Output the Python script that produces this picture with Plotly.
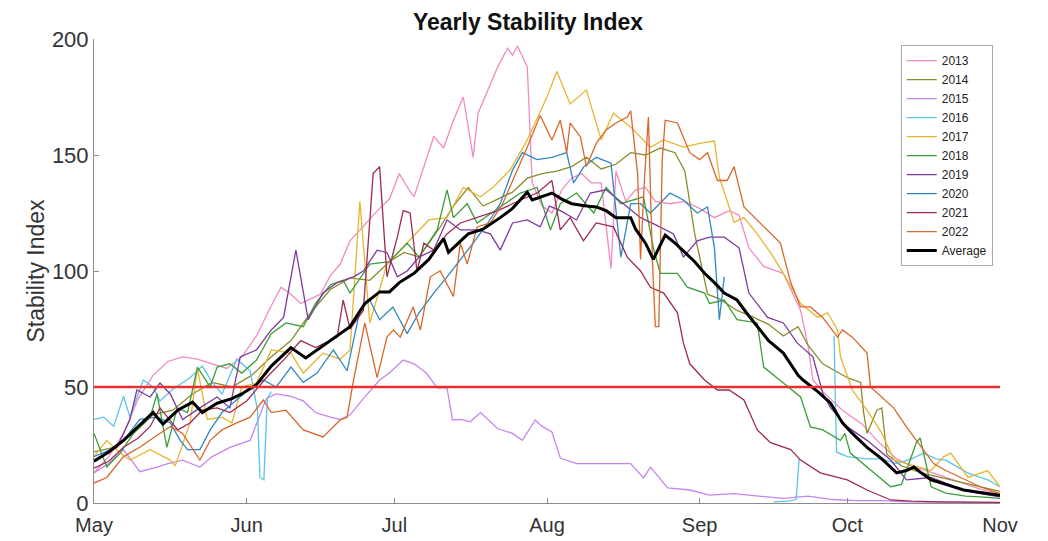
import pandas as pd
import plotly.graph_objects as go

# dias contados a partir de 1 de maio
d2013 = [0, 3, 6, 9, 12, 15, 18, 21, 24, 27, 30, 33, 36, 38, 40, 42, 44, 46, 48, 50, 52, 55, 58, 60, 62, 64, 65, 67, 69, 71,
         73, 75, 77, 78, 80, 82, 84, 85, 86, 88, 89, 91, 93, 95, 97, 99, 101, 103, 105, 106, 108, 110, 112, 114, 117, 120,
         123, 126, 129, 131, 133, 136, 140, 142, 143.5, 145, 146, 148, 150, 152, 156, 159, 163, 166, 169, 173, 177, 180, 184]
v2013 = [13, 20, 30, 45, 55, 61, 63, 62, 60, 58, 63, 72, 85, 93, 90, 86, 88, 90, 98, 103, 113, 120, 127, 131, 142, 135, 132,
         145, 158, 153, 165, 175, 149, 168, 178, 188, 196, 193, 197, 188, 138, 128, 125, 135, 140, 142, 138, 138, 101, 143,
         130, 135, 136, 130, 129, 130, 127, 123, 126, 124, 110, 102, 99, 90, 83, 68, 53, 48, 44, 40, 34, 27, 19, 16, 14, 11,
         8, 6, 4]

d2014 = [0, 4, 8, 12, 16, 20, 24, 28, 32, 36, 40, 44, 48, 52, 56, 60, 63, 66, 70, 73, 76, 79, 82, 85, 88, 91, 94, 97, 100,
         103, 106, 109, 112, 115, 118, 120, 122, 124.6, 127, 130.6, 134, 137, 140, 143, 145, 148, 153, 155.7, 156.3, 157,
         159, 160, 161, 164, 168, 172, 176, 180, 184]
v2014 = [22, 24, 30, 38, 40, 47, 52, 50, 55, 63, 70, 82, 92, 97, 96, 104, 108, 106, 118, 128, 136, 128, 131, 134, 140, 142,
         143, 145, 149, 144, 146, 151, 150, 153, 151, 143, 116, 90, 88, 83, 80, 77, 72, 76, 68, 60, 54, 52, 39, 30, 40, 41,
         21, 16, 13, 11, 9, 7, 5]

d2015 = [0, 3, 6, 9.3, 12.8, 15, 18, 21.5, 24, 27.6, 31.7, 35, 37, 40, 42.5, 45, 48, 50, 52, 54.7, 58, 60, 62.8, 65, 67.5,
         69.7, 71.7, 72.8, 74.5, 76.4, 78.5, 80, 82, 85, 87, 89.6, 91, 93, 94.7, 98, 102, 105, 109, 111.6, 113, 116.5, 121,
         125, 130, 135, 140, 145, 150, 155, 160, 165, 170, 175, 180, 184]
v2015 = [13, 17, 23, 13.5, 15.5, 17, 18.5, 15.5, 20, 24, 27, 45, 47, 46, 44, 39, 37, 36, 38, 45, 53, 56, 61.6, 60, 56, 49.6,
         49.6, 35.8, 36, 35, 39, 36, 32, 30, 27, 35.8, 33, 30.6, 19.4, 17, 17, 17, 17, 10.8, 15.5, 6.5, 5.6, 3.4, 4, 3, 2, 3,
         1.5, 1, 1, 0.5, 0.5, 0.3, 0.3, 0.2]

d2016 = [0, 2, 4, 6, 7.3, 10, 12, 13.4, 16, 19.5, 22, 24, 26, 29, 31.7, 33.2, 33.7, 34.5, 35.2, 36, 37,
         138, 141, 142.6, 143.2, 144,
         150.3, 150.8, 153, 157, 160, 163, 166, 168.5, 171, 173, 175, 177.4, 180, 181.5, 184]
v2016 = [36, 37, 33, 46, 37, 53, 50, 44, 49, 54, 59, 52, 47, 62, 57, 40, 11, 10, 45, 48, None,
         0.5, 0.8, 1.5, 19, None,
         72, 22, 20, 19, 19, 17, 19, 21.5, 19, 18.5, 16, 13, 11, 10, 7]

d2017 = [0, 2.6, 5, 7.3, 11.4, 15.5, 16.5, 19.5, 21, 23, 26, 28, 30, 33, 36, 40, 42.5, 46.5, 50, 52, 54, 56, 59.5, 63.6, 68,
         71.7, 75, 78.5, 81, 84.5, 88, 92, 94, 96.7, 100, 103, 105.5, 109, 113, 115.7, 119.7, 123, 126, 127, 130, 132, 134.7,
         138, 140, 143.5, 147, 149, 151, 151.6, 154, 157, 160, 162.5, 165, 170, 172.6, 174, 177.5, 180, 181.5, 184]
v2017 = [20, 27, 22, 18.5, 23, 18.5, 16, 34.5, 58, 36, 37, 34.5, 50, 51.7, 66, 64.6, 56, 64.6, 62, 66, 130, 77.6, 103, 112,
         122, 123, 136, 132, 136, 143.5, 156.5, 175, 186, 172, 178, 156.5, 168, 162, 153.4, 156.5, 153.4, 155, 156, 140.5,
         121, 123, 116, 106, 99, 86, 80, 82, 74.6, 63, 48.7, 40, 30, 18.5, 17, 14, 20, 21.5, 11, 13, 14, 7]

d2018 = [0, 2.6, 5.3, 8, 11.4, 12.8, 14.8, 16.9, 19, 21, 23.6, 25, 27.6, 30, 33, 36, 39, 42.5, 45, 48, 50.6, 52, 56, 60,
         63.6, 66, 69.7, 71.7, 73, 75.8, 77.8, 82, 86.6, 90, 92.7, 94.7, 98, 101.5, 104, 107, 111.6, 113.6, 115, 118.5,
         120.5, 124, 125, 128, 130.6, 134.7, 136, 140, 143.5, 145.5, 148, 151.6, 152.5, 153.6, 157, 161.8, 164, 167, 167.8,
         170, 173, 177, 180, 184]
v2018 = [30, 15.5, 21.5, 30, 37, 47, 24, 41, 39, 58.6, 50, 58.6, 60, 56, 61.6, 73, 77.6, 76, 86, 94, 96, 90.5, 103, 104,
         112, 106, 117.7, 135, 123, 129, 120.7, 127, 133.6, 136, 117.7, 129, 133.6, 125, 136, 129, 132, 110, 99, 99, 93,
         90.5, 86, 87.5, 79, 77.6, 58.6, 51.7, 45.7, 32.8, 31.5, 27, 30, 21.5, 15.5, 7, 8, 26, 28, 7, 4.3, 3, 2.6, 2]

d2019 = [0, 4.7, 7.3, 8.7, 11.4, 13.4, 15.5, 18, 21.5, 25, 27.6, 29.7, 33, 36, 38.5, 41, 43.5, 46.5, 49.4, 52.7, 54.7, 57.5,
         59.5, 61.6, 63.6, 66, 69, 71.7, 74.4, 77.8, 80.5, 82.5, 85, 88, 90.6, 92.5, 94.7, 98, 100.8, 104, 107.5, 111, 114,
         117.7, 119.7, 122.5, 125, 128, 131, 133, 136.8, 140, 142.8, 146, 148, 149.6, 153, 157, 161.8, 165, 170, 176.6,
         180, 184]
v2019 = [18.5, 24, 36, 48.7, 45.7, 51.7, 47, 36, 41, 45.7, 41, 63, 66, 74.6, 80, 109, 79, 90.5, 95, 97.5, 100, 109, 108,
         97.5, 100, 106, 109, 122, 117.7, 117.7, 116, 109, 120.7, 122, 119, 128, 126, 122, 133.6, 135, 129, 123, 120, 116,
         106, 113, 114.6, 114.6, 110, 90.5, 80, 77.6, 69, 63, 47.4, 41, 32.8, 27, 18.5, 10, 11, 5.6, 4, 2.6]

d2020 = [0, 3.3, 6, 9.3, 12.8, 15.5, 17.5, 19, 21.5, 23.6, 26, 29, 32, 34.4, 37, 40, 42.5, 45.3, 48.6, 51.4, 54, 56, 58,
         60.7, 63.6, 66, 69, 71.7, 74.4, 77, 80, 82.5, 85, 87, 90, 93, 96, 97.4, 99.5, 102, 105, 106, 107, 109, 111, 113,
         117, 119.7, 122.5, 124.6, 126, 127, 128]
v2020 = [20, 23, 27, 36, 37, 34.5, 27, 23, 23, 31.5, 39, 44.4, 50, 53, 50, 58.6, 52, 56, 66, 57, 83, 87.5, 79, 84.5, 73, 82,
         90.5, 97.5, 104.7, 112, 120.7, 129, 143.5, 151, 148, 149, 151, 138, 145, 149, 146.5, 125, 106, 129, 129, 125,
         133.6, 130.6, 125, 127.6, 110, 79, 97.5]

d2021 = [0, 3, 6, 9, 11.4, 13.4, 17, 19.5, 22, 25, 27.6, 31, 35, 38.5, 42, 45, 49.4, 50.6, 52, 54.7, 56.7, 58, 59.5, 61.6,
         62.8, 64.2, 65.6, 67, 69, 71.7, 74.4, 77.8, 82, 86.6, 90, 93, 94.7, 96.7, 99.4, 102, 105.5, 108.3, 111, 113, 115.7,
         118.5, 119.7, 121, 124, 126.6, 129, 132, 134.7, 137.4, 141.5, 143.5, 147.5, 153, 157, 161.8, 166, 172, 178, 184]
v2021 = [15, 18, 24, 28, 33, 41, 31.5, 34.5, 40, 41, 39, 44, 54, 61.6, 70, 67, 71.5, 87.5, 75, 83, 142, 145, 97.5, 114.6,
         126, 125, 100, 112, 109, 116, 120.7, 123, 126, 130.6, 133.6, 139, 117.7, 123, 113, 120.7, 119, 106, 100, 93, 90.5,
         82, 69, 60, 53, 48.7, 48.7, 44.4, 31.5, 26, 23, 18.5, 13, 10, 5.6, 1.3, 0.8, 0.5, 0.4, 0.3]

d2022 = [0, 2.6, 6, 9.3, 12, 15.5, 18, 21.5, 23.6, 26, 29, 31.7, 34.4, 36, 39, 42.5, 46.5, 50, 51.4, 52.6, 55, 57.5, 59.5,
         60.8, 62.2, 64.8, 66.3, 68.3, 70.3, 73, 74.4, 75.8, 77.8, 80.5, 83, 86, 88, 90.6, 93, 94.7, 96, 96.7, 98.8, 100,
         102, 104, 106, 108.3, 109, 110.4, 111, 111.8, 112.6, 113.4, 114, 114.7, 115.4, 116, 118.5, 121, 123, 124.6, 126.6,
         128.6, 130, 132, 134.7, 137.4, 139.4, 141.5, 143.5, 145.5, 148, 151, 152, 154, 157, 157.7, 160, 162.4, 165, 168,
         170.5, 173, 176, 180, 184]
v2022 = [8.6, 11, 20, 24, 28, 33, 30, 18.5, 27, 31.5, 34.5, 37, 44.4, 39, 40, 31.5, 28.5, 35.8, 37, 51.7, 77.6, 54, 71.5,
         74.6, 71.5, 84.5, 74.6, 97.5, 100, 89, 112, 103, 119, 120.7, 129, 143.5, 153.4, 167, 156.5, 165, 151, 163.8, 157.8,
         145, 155, 160.8, 163.8, 166.4, 169, 142, 105, 140, 166.4, 105, 76, 76, 148, 165, 163.8, 151, 148, 151, 139, 139,
         145, 127.6, 122, 116, 112, 95, 84.5, 84.5, 80, 71.5, 74.6, 71.5, 64.6, 50, 45.7, 41, 32.8, 24, 17, 14, 11, 7, 4]

d_media = [0, 3, 6, 9, 12, 14, 17, 20, 22, 25, 28, 30, 33, 36, 38, 40, 43, 46, 50, 52, 55, 58, 60, 62, 65, 68, 71, 72, 74,
           76, 79, 82.5, 85, 88, 89, 91, 93, 95, 97, 100, 102, 104, 106, 109, 110, 112, 113.6, 116, 118, 120, 122, 124,
           126, 128, 130.6, 132.5, 134.7, 137, 140, 143, 144, 147, 149.6, 152, 154, 157, 160, 163, 165, 166.5, 168, 170,
           173, 176.6, 180, 183.5, 184]
v_media = [18, 22, 27, 33, 39, 34, 40, 43.5, 39, 43, 45, 47, 51, 59, 63, 67, 62.5, 67, 73, 76, 86, 91, 91, 95, 99, 105,
           114, 108, 112, 116, 118, 123, 127, 134, 130.6, 132, 133.6, 131, 129, 128, 127.6, 126, 123, 123, 118, 112, 105,
           115.5, 112, 108, 104, 99, 95, 90.5, 87.5, 82, 76, 70, 64.6, 55, 53, 48, 43, 34.5, 30, 24, 19, 13, 14, 15.5, 13,
           10, 8, 5.6, 4.5, 3.4, 3.3]

limite = 50

anos = ["2013", "2014", "2015", "2016", "2017", "2018", "2019", "2020", "2021", "2022"]
dias = [d2013, d2014, d2015, d2016, d2017, d2018, d2019, d2020, d2021, d2022]
valores = [v2013, v2014, v2015, v2016, v2017, v2018, v2019, v2020, v2021, v2022]
cores = ["#f28ac3", "#8a8c2c", "#c486ee", "#5cc4ec", "#e9b431",
         "#3b9e3b", "#7d3a9e", "#2f88c4", "#9c2a52", "#d8672a"]

inicio = pd.Timestamp("2022-05-01")


def para_datas(d):
    return [inicio + pd.Timedelta(days=x) for x in d]


fig = go.Figure()

for ano, d, v, cor in zip(anos, dias, valores, cores):
    fig.add_trace(go.Scatter(x=para_datas(d), y=v, mode="lines", name=ano,
                             line=dict(color=cor, width=1.3)))

fig.add_trace(go.Scatter(x=para_datas(d_media), y=v_media, mode="lines", name="Average",
                         line=dict(color="black", width=3)))

fig.add_hline(y=limite, line=dict(color="#e5322c", width=2.5))

# a página tem 8px de margem no body, então a figura fica um pouco menor
fig.update_layout(
    width=1040,
    height=533,
    margin=dict(l=86, r=48, t=31, b=38),
    paper_bgcolor="white",
    plot_bgcolor="white",
    font=dict(family="Liberation Sans, Arial, sans-serif", color="#333333"),
    title=dict(text="<b>Yearly Stability Index</b>", x=0.5, xanchor="center", y=0.974, yanchor="middle",
               font=dict(size=23, color="#111111")),
    showlegend=True,
    legend=dict(x=0.992, xanchor="right", y=0.987, yanchor="top", bgcolor="white",
                bordercolor="#a8a8a8", borderwidth=1, font=dict(size=12, color="#222222"),
                tracegroupgap=0),
)

fig.update_xaxes(
    type="date",
    range=["2022-05-01", "2022-11-01"],
    dtick="M1",
    tick0="2022-05-01",
    tickformat="%b",
    ticks="inside",
    ticklen=5,
    tickcolor="#8c8c8c",
    showline=True,
    linecolor="#8c8c8c",
    showgrid=False,
    zeroline=False,
    automargin=False,
    ticklabelstandoff=4,
    tickfont=dict(size=20),
)

fig.update_yaxes(
    range=[0, 200],
    dtick=50,
    ticks="inside",
    ticklen=5,
    tickcolor="#8c8c8c",
    showline=True,
    linecolor="#8c8c8c",
    showgrid=False,
    zeroline=False,
    automargin=False,
    tickfont=dict(size=22),
    title=dict(text="Stability Index", font=dict(size=23), standoff=0),
)

fig.write_html("out.html")
